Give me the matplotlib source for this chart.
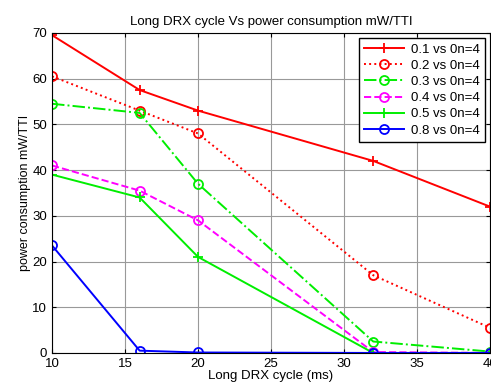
import matplotlib.pyplot as plt

cycle_ms = [10, 16, 20, 32, 40]
p01 = [69.5, 57.5, 53.0, 42.0, 32.0]
p02 = [60.5, 53.0, 48.0, 17.0, 5.5]
p03 = [54.5, 52.5, 37.0, 2.5, 0.3]
p04 = [41.0, 35.5, 29.0, 0.2, 0.0]
p05 = [39.0, 34.0, 21.0, 0.0, 0.0]
p08 = [23.5, 0.5, 0.1, 0.0, 0.0]
labels = ["0.1 vs 0n=4", "0.2 vs 0n=4", "0.3 vs 0n=4",
          "0.4 vs 0n=4", "0.5 vs 0n=4", "0.8 vs 0n=4"]

plt.rcParams["font.family"] = "Liberation Sans"

fig = plt.figure(figsize=(4.91, 3.87), dpi=100)
ax = fig.add_axes((0.106, 0.088, 0.892, 0.827))

styles = [
    (p01, "#ff0000", "-", "+"),
    (p02, "#ff0000", ":", "o"),
    (p03, "#00ee00", "-.", "o"),
    (p04, "#ff00ff", "--", "o"),
    (p05, "#00ee00", "-", "+"),
    (p08, "#0000ff", "-", "o"),
]
for (vals, color, ls, mk), lab in zip(styles, labels):
    ax.plot(cycle_ms, vals, color=color, linestyle=ls, marker=mk, markersize=6.5,
            markerfacecolor="none", markeredgewidth=1.3, linewidth=1.4, label=lab)

ax.set_xlim(10, 40)
ax.set_ylim(0, 70)
ax.set_xticks(range(10, 41, 5))
ax.set_yticks(range(0, 71, 10))
ax.tick_params(direction="in", top=True, right=True, labelsize=9.5, length=3)
ax.grid(True, color="#999999", linewidth=0.8)
ax.set_title("Long DRX cycle Vs power consumption mW/TTI", fontsize=9.5, pad=6)
ax.set_xlabel("Long DRX cycle (ms)", fontsize=9.5, labelpad=0)
ax.set_ylabel("power consumption mW/TTI", fontsize=9, labelpad=1)

leg = ax.legend(loc="upper right", fontsize=9.5, fancybox=False, framealpha=1,
                edgecolor="black", handlelength=3.0, borderaxespad=0.4,
                labelspacing=0.3, handletextpad=0.5)
leg.get_frame().set_linewidth(1.0)

fig.savefig("out.png", dpi=100)
